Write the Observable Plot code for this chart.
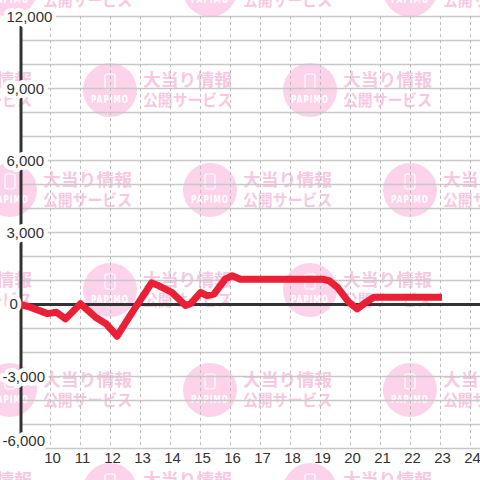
<!DOCTYPE html>
<html>
<head>
<meta charset="utf-8">
<script src="https://cdn.jsdelivr.net/npm/d3@7"></script>
<script src="https://cdn.jsdelivr.net/npm/@observablehq/plot@0.6"></script>
<style>
  html, body { margin: 0; padding: 0; background: #fff; }
  #wrap { position: relative; width: 480px; height: 480px; overflow: hidden; }
  #bg, #chart { position: absolute; left: 0; top: 0; }
</style>
</head>
<body>
<div id="wrap"><svg id="bg" width="480" height="480"></svg><div id="chart"></div></div>
<script>
// Data (hour of day, cumulative value)
const hours  = [9.0, 9.3, 9.9, 10.2, 10.5, 11.0, 11.5, 11.85, 12.22, 12.75, 13.37, 13.6, 14.05, 14.5, 14.67, 15.0, 15.22, 15.45, 15.83, 16.06, 16.33, 19.1, 19.3, 19.56, 19.94, 20.22, 20.5, 20.78, 23.05];
const values = [0, -100, -380, -320, -600, 30, -530, -800, -1320, -280, 900, 790, 500, -40, 30, 500, 370, 430, 1070, 1200, 1050, 1050, 980, 720, 100, -180, 80, 300, 300];
const xTicks = [10, 11, 12, 13, 14, 15, 16, 17, 18, 19, 20, 21, 22, 23, 24];
const yTicks = [-6000, -3000, 0, 3000, 6000, 9000, 12000];
const yGrid = [-6000, -5000, -4000, -3000, -2000, -1000, 0, 1000, 2000, 3000, 4000, 5000, 6000, 7000, 8000, 9000, 10000, 11000, 12000];
const watermarkTitle = "大当り情報";
const watermarkSub = "公開サービス";
const watermarkLogo = "PAPIMO";

const data = hours.map((h, i) => ({h, v: values[i]}));
const fmt = d => d.toLocaleString("en-US");

// Background watermark tiles (decoration)
const bg = d3.select("#bg");
for (let r = 0; r < 6; r++) {
  const cy = -10 + 100 * r;
  const x0 = r % 2 === 0 ? 10 : 110;
  for (let k = -1; k < 3; k++) {
    const cx = x0 + 200 * k;
    const g = bg.append("g").attr("transform", `translate(${cx},${cy})`);
    g.append("circle").attr("r", 27).attr("fill", "#fcd3ea");
    g.append("rect").attr("x", -5).attr("y", -16).attr("width", 10).attr("height", 15).attr("rx", 2)
      .attr("fill", "none").attr("stroke", "#fff").attr("stroke-width", 1.2);
    g.append("text").attr("x", 0).attr("y", 13).attr("text-anchor", "middle")
      .attr("font-family", "DejaVu Sans, sans-serif").attr("font-size", 10).attr("font-weight", "bold")
      .attr("letter-spacing", 1.5).attr("fill", "#fff").attr("textLength", 38).attr("lengthAdjust", "spacingAndGlyphs")
      .text(watermarkLogo);
    g.append("text").attr("x", 33).attr("y", -4).attr("font-family", "Noto Sans CJK JP, sans-serif")
      .attr("font-size", 17).attr("font-weight", "bold").attr("fill", "#f8c8e2")
      .attr("textLength", 89).attr("lengthAdjust", "spacingAndGlyphs").text(watermarkTitle);
    g.append("text").attr("x", 33).attr("y", 16).attr("font-family", "Noto Sans CJK JP, sans-serif")
      .attr("font-size", 16).attr("font-weight", "bold").attr("fill", "#f8c8e2")
      .attr("textLength", 89).attr("lengthAdjust", "spacingAndGlyphs").text(watermarkSub);
  }
}

const labelStyle = {fill: "#333", fontSize: 15, stroke: "white", strokeWidth: 8, strokeLinejoin: "round"};

const chart = Plot.plot({
  width: 480,
  height: 480,
  marginLeft: 20,
  marginRight: 0,
  marginTop: 16,
  marginBottom: 32,
  x: {domain: [9, 24 + 1 / 3], axis: null},
  y: {domain: [-6000, 12000], axis: null},
  style: {background: "transparent", fontFamily: "Liberation Sans, Arial, sans-serif", overflow: "visible"},
  marks: [
    Plot.ruleY(yGrid, {stroke: "#c8c8c8", strokeWidth: 1.3}),
    Plot.ruleX(xTicks, {stroke: "#bdbdbd", strokeWidth: 1, strokeDasharray: "3,3"}),
    Plot.ruleY([0], {stroke: "#333", strokeWidth: 3}),
    Plot.ruleX([9], {stroke: "#333", strokeWidth: 3, dx: 0.5}),
    Plot.line(data, {x: "h", y: "v", stroke: "#ea2136", strokeWidth: 7, strokeLinejoin: "round", strokeLinecap: "butt"}),
    Plot.text(yTicks.filter(d => d > 0), {y: d => d, text: fmt, frameAnchor: "left", textAnchor: "start", dx: -14, dy: 1, ...labelStyle}),
    Plot.text(yTicks.filter(d => d === 0), {y: d => d, text: fmt, frameAnchor: "left", textAnchor: "start", dx: -11, ...labelStyle}),
    Plot.text(yTicks.filter(d => d < 0 && d > -6000), {y: d => d, text: fmt, frameAnchor: "left", textAnchor: "start", dx: -18, dy: 1, ...labelStyle}),
    Plot.text(yTicks.filter(d => d === -6000), {y: d => d, text: fmt, frameAnchor: "left", textAnchor: "start", dx: -18, dy: -7, ...labelStyle}),
    Plot.text(xTicks, {x: d => d, text: d => String(d), frameAnchor: "bottom", dy: 14, dx: 2, fill: "#333", fontSize: 15})
  ]
});
document.getElementById("chart").appendChild(chart);
</script>
</body>
</html>
